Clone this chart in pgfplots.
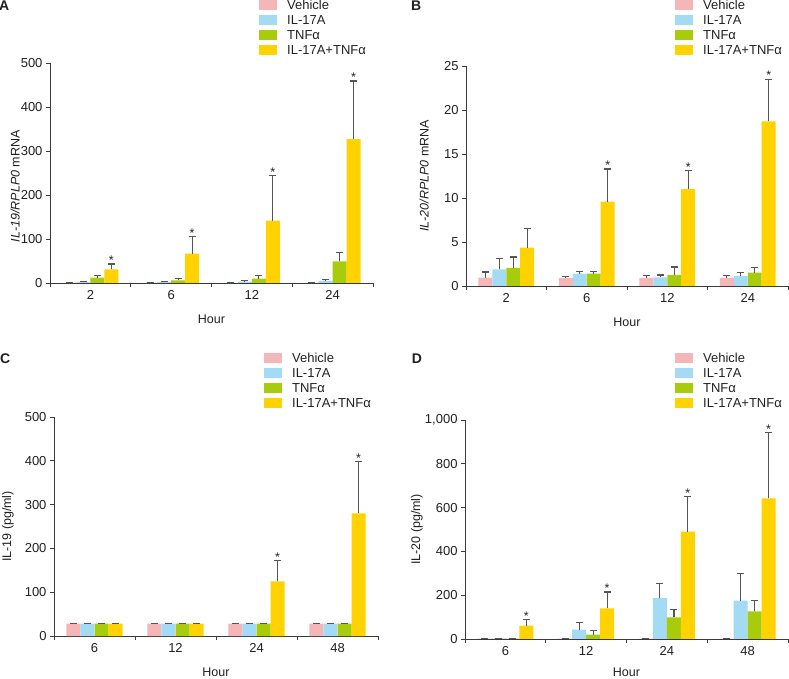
\documentclass[border=0pt]{standalone}
\usepackage{fontspec}
\setmainfont{Liberation Sans}
\usepackage{pgfplots}
\pgfplotsset{compat=1.18}

\definecolor{cveh}{HTML}{F4B6B6}
\definecolor{cil}{HTML}{A3DAF4}
\definecolor{ctnf}{HTML}{A8CB0C}
\definecolor{ccomb}{HTML}{FFD200}
\definecolor{cerr}{HTML}{555555}
\definecolor{caxis}{HTML}{3A3A3A}
\definecolor{ctext}{HTML}{231F20}

\tikzset{letter/.style={font=\bfseries\fontsize{14bp}{16bp}\selectfont, color=ctext}}

\pgfplotsset{
  panel/.style={
    scale only axis,
    axis x line*=bottom, axis y line*=left,
    axis line style={caxis, line width=0.8bp},
    xmin=-0.5, xmax=3.5, ymin=0,
    xtick={0,1,2,3},
    minor xtick={-0.5,0.5,1.5,2.5,3.5},
    tick align=outside, major tick length=4bp, minor tick length=4bp,
    every major x tick/.style={draw=none},
    tick style={caxis, line width=0.8bp},
    bar width=0.173, clip=false,
    every tick label/.append style={font=\fontsize{13bp}{15bp}\selectfont, color=ctext},
    /pgf/number format/assume math mode=true,
    every axis x label/.style={at={(axis description cs:0.5,-0.164)}, anchor=center,
      font=\fontsize{12.5bp}{14bp}\selectfont, color=ctext},
    legend cell align=left,
    legend style={draw=none, fill=none, inner sep=0pt, anchor=north west,
      font=\fontsize{13bp}{15bp}\selectfont, text=ctext,
      row sep=5bp, column sep=10bp,
      nodes={inner sep=0pt, text height=9bp, text depth=0bp}},
  },
  ylab/.style 2 args={every axis y label/.style={at={(axis description cs:#1,#2)},
      rotate=90, anchor=center, font=\fontsize{12.5bp}{14bp}\selectfont, color=ctext}},
  bars/.style={ybar, bar shift=0pt, fill=#1, draw=none,
    legend image code/.code={\fill[#1,draw=none] (0bp,-5bp) rectangle (18bp,5bp);},
    error bars/y dir=plus, error bars/y explicit,
    error bars/error bar style={cerr, line width=1.2bp},
    error bars/error mark options={cerr, rotate=90, mark size=3.5bp, line width=1.2bp}},
  stars/.style={only marks, mark=text, text mark={*}, color=ctext,
    text mark as node=true,
    text mark style={font=\fontsize{12.5bp}{14bp}\selectfont, anchor=south,
      inner sep=0pt, yshift=-1bp},
    forget plot},
}

\begin{document}
\begin{tikzpicture}
\useasboundingbox (0,0) rectangle (789bp,679bp);

% A
\begin{axis}[panel, at={(50bp,396bp)}, anchor=south west,
  width=323bp, height=220bp, ymax=500, ytick={0,100,...,500},
  xticklabels={2,6,12,24}, xlabel={Hour},
  ylabel={\textit{IL-19/RPLP0} mRNA}, ylab={-0.108}{0.44},
  legend style={at={(axis description cs:0.647,1.286)}}]
\addplot[bars=cveh] coordinates {(-0.26,0.5) +- (0,0.5) (0.74,0.5) +- (0,0.5) (1.74,0.5) +- (0,0.5) (2.74,0.5) +- (0,0.5)};
\addplot[bars=cil] coordinates {(-0.087,2) +- (0,1.5) (0.913,2) +- (0,2) (1.913,3) +- (0,2) (2.913,5) +- (0,2.5)};
\addplot[bars=ctnf] coordinates {(0.087,12) +- (0,5) (1.087,6) +- (0,4) (2.087,10) +- (0,7) (3.087,49) +- (0,21)};
\addplot[bars=ccomb] coordinates {(0.26,31) +- (0,12) (1.26,67) +- (0,38) (2.26,142) +- (0,102) (3.26,327) +- (0,132)};
\addplot[stars] coordinates {(0.26,43) (1.26,105) (2.26,244) (3.26,459)};
\legend{Vehicle, IL-17A, TNFα, IL-17A+TNFα}
\node[letter] at (axis description cs:-0.142,1.259) {A};
\end{axis}

% B
\begin{axis}[panel, at={(466bp,393bp)}, anchor=south west,
  width=322bp, height=220bp, ymax=25, ytick={0,5,...,25},
  xticklabels={2,6,12,24}, xlabel={Hour},
  ylabel={\textit{IL-20/RPLP0} mRNA}, ylab={-0.13}{0.5},
  legend style={at={(axis description cs:0.649,1.30)}}]
\addplot[bars=cveh] coordinates {(-0.26,0.95) +- (0,0.65) (0.74,0.9) +- (0,0.2) (1.74,0.92) +- (0,0.23) (2.74,0.92) +- (0,0.27)};
\addplot[bars=cil] coordinates {(-0.087,1.9) +- (0,1.2) (0.913,1.4) +- (0,0.25) (1.913,0.97) +- (0,0.27) (2.913,1.11) +- (0,0.42)};
\addplot[bars=ctnf] coordinates {(0.087,2.05) +- (0,1.25) (1.087,1.4) +- (0,0.25) (2.087,1.26) +- (0,0.9) (3.087,1.53) +- (0,0.58)};
\addplot[bars=ccomb] coordinates {(0.26,4.35) +- (0,2.2) (1.26,9.6) +- (0,3.7) (2.26,11.0) +- (0,2.15) (3.26,18.7) +- (0,4.8)};
\addplot[stars] coordinates {(1.26,13.3) (2.26,13.15) (3.26,23.5)};
\legend{Vehicle, IL-17A, TNFα, IL-17A+TNFα}
\node[letter] at (axis description cs:-0.155,1.273) {B};
\end{axis}

% C
\begin{axis}[panel, at={(54bp,43bp)}, anchor=south west,
  width=324bp, height=219bp, ymax=500, ytick={0,100,...,500},
  xticklabels={6,12,24,48}, xlabel={Hour},
  ylabel={IL-19 (pg/ml)}, ylab={-0.142}{0.5},
  legend style={at={(axis description cs:0.648,1.292)}}]
\addplot[bars=cveh] coordinates {(-0.26,28) +- (0,1) (0.74,28) +- (0,1) (1.74,28) +- (0,1) (2.74,28) +- (0,1)};
\addplot[bars=cil] coordinates {(-0.087,28) +- (0,1) (0.913,28) +- (0,1) (1.913,28) +- (0,1) (2.913,28) +- (0,1)};
\addplot[bars=ctnf] coordinates {(0.087,28) +- (0,1) (1.087,28) +- (0,1) (2.087,28) +- (0,1) (3.087,28) +- (0,1)};
\addplot[bars=ccomb] coordinates {(0.26,28) +- (0,1) (1.26,28) +- (0,1) (2.26,125) +- (0,47) (3.26,280) +- (0,118)};
\addplot[stars] coordinates {(2.26,172) (3.26,398)};
\legend{Vehicle, IL-17A, TNFα, IL-17A+TNFα}
\node[letter] at (axis description cs:-0.151,1.265) {C};
\end{axis}

% D
\begin{axis}[panel, at={(465bp,40bp)}, anchor=south west,
  width=323bp, height=219bp, ymax=1000, ytick={0,200,...,1000},
  /pgf/number format/1000 sep={,},
  xticklabels={6,12,24,48}, xlabel={Hour},
  every axis x label/.append style={at={(axis description cs:0.5,-0.152)}},
  ylabel={IL-20 (pg/ml)}, ylab={-0.149}{0.5},
  legend style={at={(axis description cs:0.650,1.306)}}]
\addplot[bars=cveh] coordinates {(-0.26,2) +- (0,0) (0.74,2) +- (0,0) (1.74,2) +- (0,0) (2.74,2) +- (0,0)};
\addplot[bars=cil] coordinates {(-0.087,3) +- (0,1) (0.913,43) +- (0,33) (1.913,188) +- (0,65) (2.913,175) +- (0,123)};
\addplot[bars=ctnf] coordinates {(0.087,2) +- (0,1) (1.087,20) +- (0,20) (2.087,99) +- (0,34) (3.087,126) +- (0,49)};
\addplot[bars=ccomb] coordinates {(0.26,61) +- (0,27) (1.26,140) +- (0,75) (2.26,490) +- (0,162) (3.26,642) +- (0,301)};
\addplot[stars] coordinates {(0.26,88) (1.26,215) (2.26,652) (3.26,943)};
\legend{Vehicle, IL-17A, TNFα, IL-17A+TNFα}
\node[letter] at (axis description cs:-0.149,1.279) {D};
\end{axis}
\end{tikzpicture}
\end{document}
